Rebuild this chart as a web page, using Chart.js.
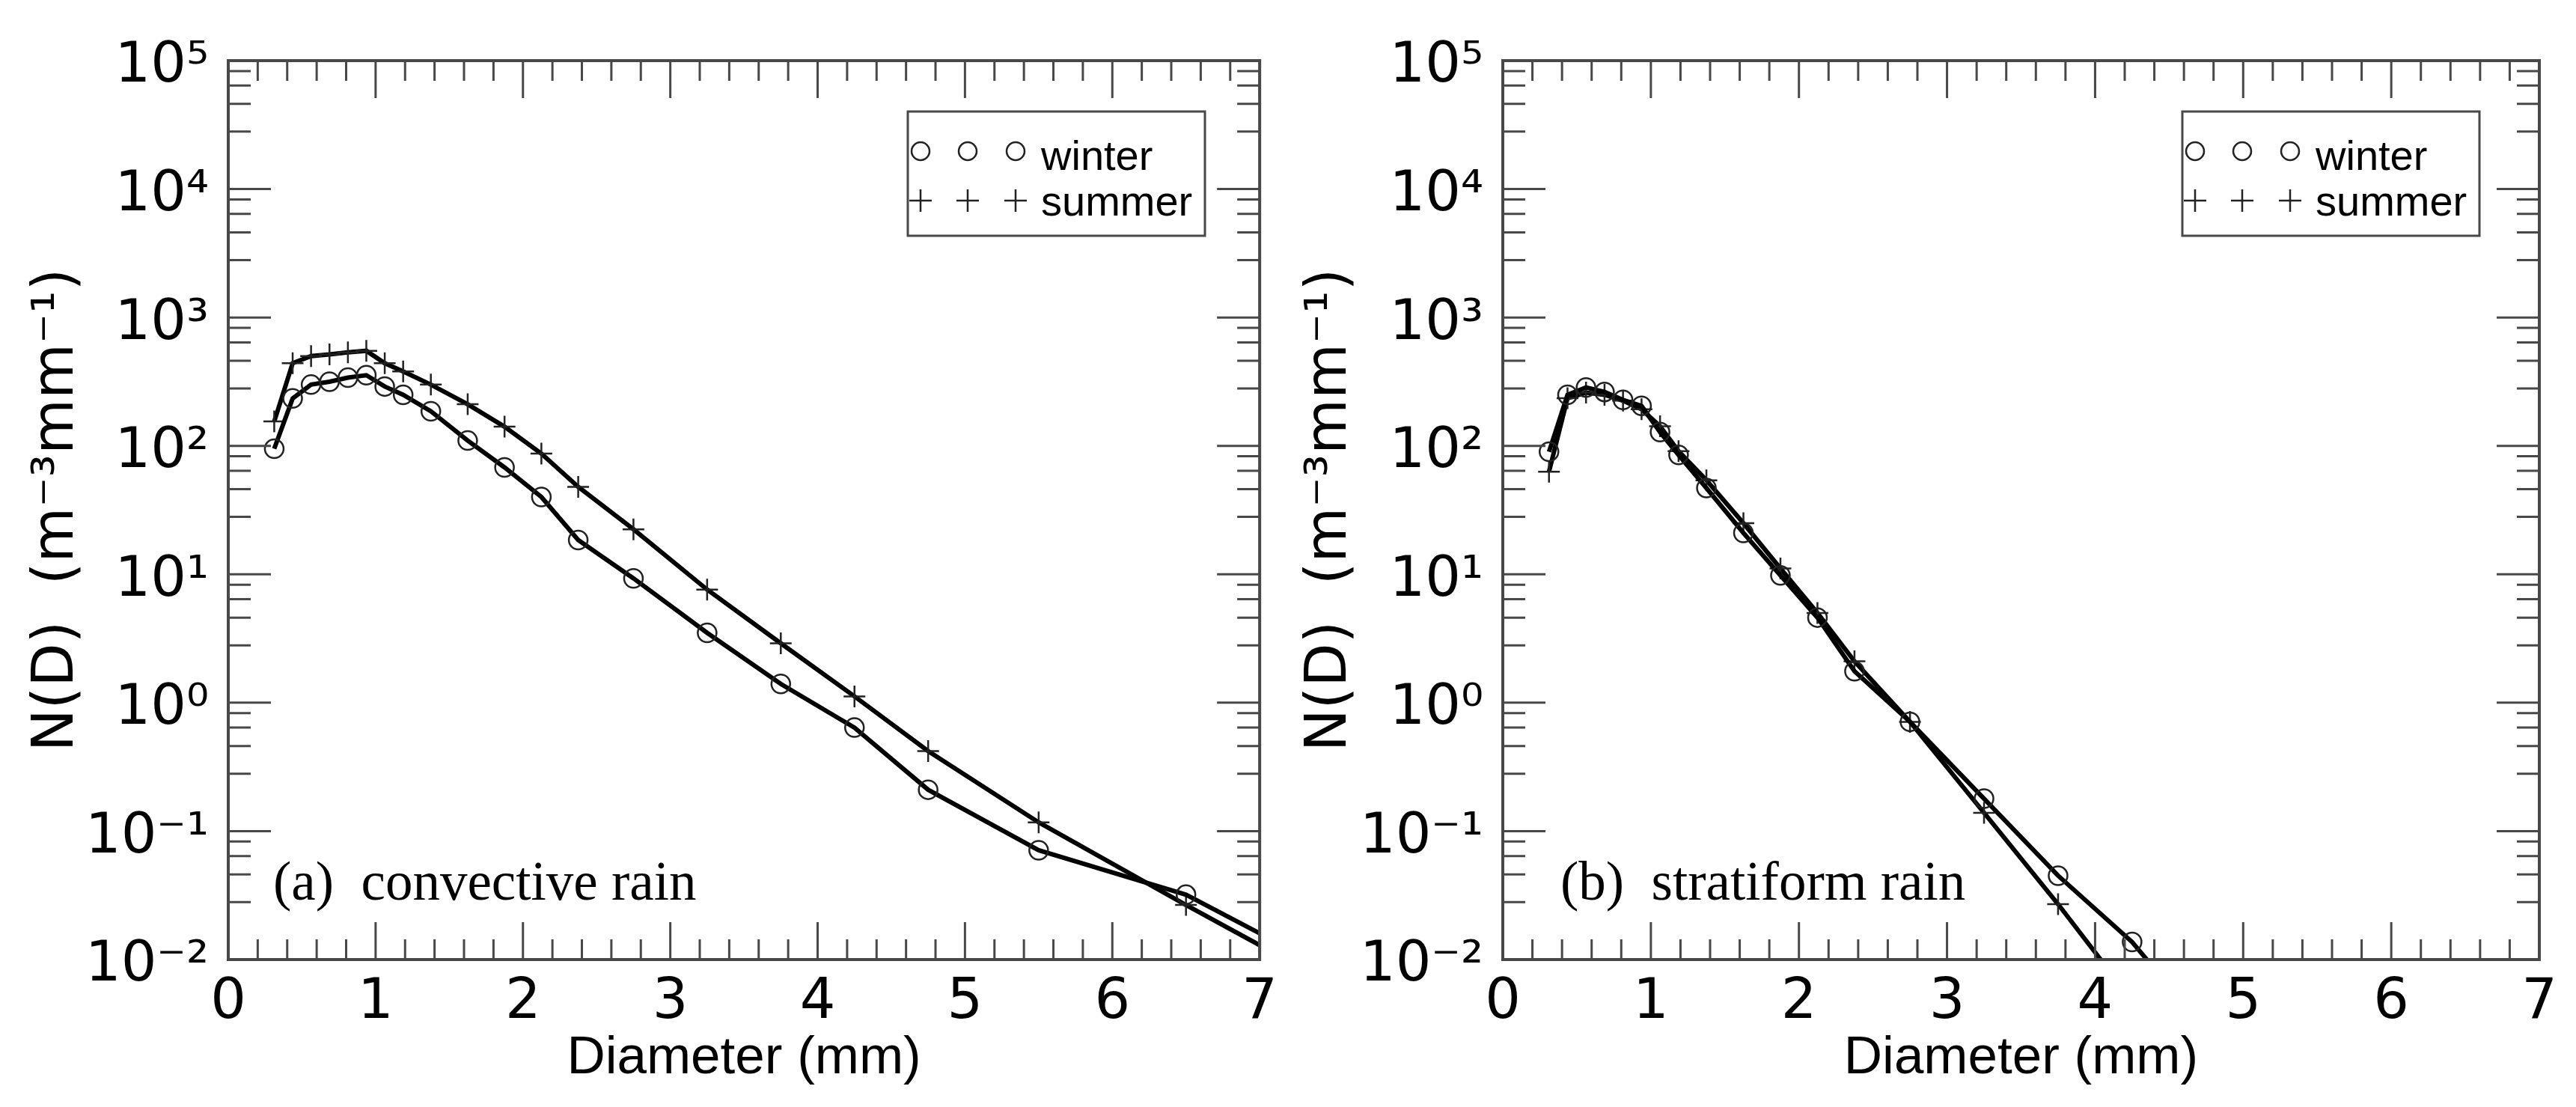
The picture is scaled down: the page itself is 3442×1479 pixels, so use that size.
<!DOCTYPE html>
<html>
<head>
<meta charset="utf-8">
<title>N(D) winter / summer</title>
<script src="https://cdn.jsdelivr.net/npm/chart.js@4.4.1/dist/chart.umd.min.js"></script>
<style>
  html, body { margin: 0; padding: 0; background: #ffffff; }
  #wrap { position: relative; width: 3442px; height: 1479px; overflow: hidden; }
  canvas { position: absolute; top: 0; }
  #chartA { left: 0; }
  #chartB { left: 1721px; }
</style>
</head>
<body>
<div id="wrap">
  <canvas id="chartA" width="1721" height="1479"></canvas>
  <canvas id="chartB" width="1721" height="1479"></canvas>
</div>
<script>
'use strict';

// data (drop size class centres, mm)
var diameters = [0.312, 0.437, 0.562, 0.687, 0.812, 0.937, 1.062, 1.187, 1.375, 1.625,
  1.875, 2.125, 2.375, 2.75, 3.25, 3.75, 4.25, 4.75, 5.5, 6.5, 7.5];
var convectiveWinter = [95, 234, 300, 316, 340, 355, 290, 250, 186, 110,
  68, 40, 18.5, 9.3, 3.5, 1.4, 0.64, 0.21, 0.071, 0.032, 0.008];
var convectiveSummer = [155, 440, 500, 515, 535, 550, 440, 380, 300, 211,
  141, 87, 48, 22.4, 7.6, 2.9, 1.12, 0.42, 0.117, 0.0266, 0.0063];
var stratiformWinter = [90, 250, 285, 263, 228, 205, 128, 85, 47, 21,
  9.8, 4.6, 1.76, 0.71, 0.179, 0.045, 0.0137, 0.0028];
var stratiformSummer = [63, 235, 260, 250, 225, 193, 142, 91, 54, 25,
  11.1, 5.0, 2.1, 0.71, 0.139, 0.027, 0.0048];

var seriesNames = ['winter', 'summer'];
var panelCaptions = ['(a)  convective rain', '(b)  stratiform rain'];
var xTitle = 'Diameter (mm)';
var yTitle = 'N(D)  (m\u207B\u00B3mm\u207B\u00B9)';
var xMajorTicks = [0, 1, 2, 3, 4, 5, 6, 7];
var xMinorPerMajor = 5;
var yDecades = [0.01, 0.1, 1, 10, 100, 1000, 10000, 100000];
var yTickLabels = ['10\u207B\u00B2', '10\u207B\u00B9', '10\u2070', '10\u00B9',
  '10\u00B2', '10\u00B3', '10\u2074', '10\u2075'];
var yMinorFactors = [2.8, 4.6, 6.4, 8.3];

// styles
var ink = '#000000';
var markerInk = '#222222';
var frameColor = '#484848';
var sansFont = "'DejaVu Sans', sans-serif";
var xTitleFont = "'Liberation Sans', Arial, sans-serif";
var legendFont = "'Liberation Sans', Arial, sans-serif";
var serifFont = "'Liberation Serif', 'Times New Roman', serif";

// helpers
function toPoints(values){
  return values.map(function(v, i){
    return {x: diameters[i], y: v};
  });
}
function isWhole(v){
  return Math.abs(v - Math.round(v)) < 1e-6;
}
function isDecade(v){
  return isWhole(Math.log10(v));
}
function buildXTicks(scale){
  var ticks = [];
  for (var i = 0; i < xMajorTicks.length; i++) {
    ticks.push({value: xMajorTicks[i]});
    if(i < xMajorTicks.length - 1){
      var step = (xMajorTicks[i + 1] - xMajorTicks[i]) / xMinorPerMajor;
      for (var k = 1; k < xMinorPerMajor; k++) {
        ticks.push({value: xMajorTicks[i] + k * step});
      }
    }
  }
  scale.ticks = ticks;
}
function buildYTicks(scale){
  var ticks = [];
  for (var i = 0; i < yDecades.length; i++) {
    ticks.push({value: yDecades[i]});
    if(i < yDecades.length - 1){
      for (var k = 0; k < yMinorFactors.length; k++) {
        ticks.push({value: yDecades[i] * yMinorFactors[k]});
      }
    }
  }
  scale.ticks = ticks;
}

// drawing bits the library does not do itself
function drawMarker(ctx, style, x, y, r){
  ctx.beginPath();
  if(style === 'circle'){
    ctx.arc(x, y, r, 0, Math.PI * 2);
  }else{
    ctx.moveTo(x - r, y);
    ctx.lineTo(x + r, y);
    ctx.moveTo(x, y - r);
    ctx.lineTo(x, y + r);
  }
  ctx.stroke();
}
function drawInwardTicks(ctx, chart){
  var area = chart.chartArea;
  var xScale = chart.scales.x;
  var yScale = chart.scales.y;
  ctx.strokeStyle = frameColor;
  ctx.lineWidth = 3;
  ctx.beginPath();
  xScale.ticks.forEach(function(tick){
    var px = xScale.getPixelForValue(tick.value);
    var len = isWhole(tick.value) ? 50 : 27;
    ctx.moveTo(px, area.bottom);
    ctx.lineTo(px, area.bottom - len);
    ctx.moveTo(px, area.top);
    ctx.lineTo(px, area.top + len);
  });
  yScale.ticks.forEach(function(tick){
    var py = yScale.getPixelForValue(tick.value);
    var len = isDecade(tick.value) ? 57 : 30;
    ctx.moveTo(area.left, py);
    ctx.lineTo(area.left + len, py);
    ctx.moveTo(area.right, py);
    ctx.lineTo(area.right - len, py);
  });
  ctx.stroke();
  ctx.lineWidth = 4;
  ctx.strokeRect(area.left, area.top, area.right - area.left, area.bottom - area.top);
}
function drawCaption(ctx, area, opts){
  ctx.fillStyle = ink;
  ctx.font = '73px ' + serifFont;
  ctx.textAlign = 'left';
  ctx.textBaseline = 'alphabetic';
  ctx.fillText(opts.caption, area.left + opts.captionLeft, area.bottom - 80);
}
function drawLegend(ctx, chart, opts){
  var area = chart.chartArea;
  var left = area.left + opts.legendLeft;
  var top = area.top + 68;
  ctx.strokeStyle = frameColor;
  ctx.lineWidth = 3;
  ctx.strokeRect(left, top, 397, 166);
  var rows = [{mid: top + 53, base: top + 78}, {mid: top + 119, base: top + 139}];
  var markerOffsets = [17, 80, 144];
  ctx.font = '56px ' + legendFont;
  ctx.fillStyle = ink;
  ctx.textAlign = 'left';
  ctx.textBaseline = 'alphabetic';
  chart.data.datasets.forEach(function(ds, r){
    ctx.strokeStyle = markerInk;
    ctx.lineWidth = 2.5;
    markerOffsets.forEach(function(dx){
      drawMarker(ctx, ds.pointStyle, left + dx, rows[r].mid, ds.pointStyle === 'circle' ? 12 : 15);
    });
    ctx.fillText(ds.label, left + 178, rows[r].base);
  });
}

var panelDecor = {
  id: 'panelDecor',
  afterDraw: function(chart, args, opts){
    var ctx = chart.ctx;
    ctx.save();
    drawInwardTicks(ctx, chart);
    drawCaption(ctx, chart.chartArea, opts);
    drawLegend(ctx, chart, opts);
    ctx.restore();
  }
};

// chart builders
function makeDataset(label, values, style){
  return {
    label: label,
    data: toPoints(values),
    borderColor: ink,
    borderWidth: 6,
    pointStyle: style,
    pointRadius: style === 'circle' ? 12.5 : 14.5,
    pointBorderWidth: 2.5,
    pointBorderColor: markerInk,
    pointBackgroundColor: 'rgba(0,0,0,0)',
    fill: false,
    tension: 0,
    clip: 0
  };
}
function makeChart(canvasId, winterValues, summerValues, layout){
  var context = document.getElementById(canvasId).getContext('2d');
  return new Chart(context, {
    type: 'line',
    data: {
      datasets: [
        makeDataset(seriesNames[0], winterValues, 'circle'),
        makeDataset(seriesNames[1], summerValues, 'cross')
      ]
    },
    options: {
      responsive: false,
      animation: false,
      devicePixelRatio: 1,
      events: [],
      layout: {padding: {top: 81, right: layout.padRight, bottom: 0, left: 0}},
      plugins: {
        legend: {display: false},
        tooltip: {enabled: false},
        panelDecor: {caption: layout.caption, captionLeft: layout.captionLeft, legendLeft: 908}
      },
      scales: {
        x: {
          type: 'linear',
          min: 0,
          max: 7,
          afterBuildTicks: buildXTicks,
          afterFit: function(scale){ scale.height = 197; },
          grid: {display: false, drawTicks: false},
          border: {display: false},
          ticks: {
            autoSkip: false,
            maxRotation: 0,
            minRotation: 0,
            padding: 14,
            color: ink,
            font: {family: sansFont, size: 75},
            callback: function(value){
              return isWhole(value) ? String(Math.round(value)) : '';
            }
          },
          title: {
            display: true,
            text: xTitle,
            color: ink,
            font: {family: xTitleFont, size: 71, lineHeight: 1.2},
            padding: {top: 0, bottom: 22}
          }
        },
        y: {
          type: 'logarithmic',
          min: 0.01,
          max: 100000,
          afterBuildTicks: buildYTicks,
          afterFit: function(scale){ scale.width = layout.axisWidth; },
          grid: {display: false, drawTicks: false},
          border: {display: false},
          ticks: {
            autoSkip: false,
            padding: 26,
            labelOffset: 9,
            color: ink,
            font: {family: sansFont, size: 75},
            callback: function(value){
              var i = yDecades.indexOf(value);
              return i >= 0 ? yTickLabels[i] : '';
            }
          },
          title: {
            display: true,
            text: yTitle,
            color: ink,
            font: {family: sansFont, size: 76, lineHeight: 1.2},
            padding: {top: layout.titlePad, bottom: 0}
          }
        }
      }
    },
    plugins: [panelDecor]
  });
}

// run script
makeChart('chartA', convectiveWinter, convectiveSummer,
  {axisWidth: 305, padRight: 23, titlePad: 32, caption: panelCaptions[0], captionLeft: 60});
makeChart('chartB', stratiformWinter, stratiformSummer,
  {axisWidth: 287, padRight: 49, titlePad: 12, caption: panelCaptions[1], captionLeft: 77});
</script>
</body>
</html>
